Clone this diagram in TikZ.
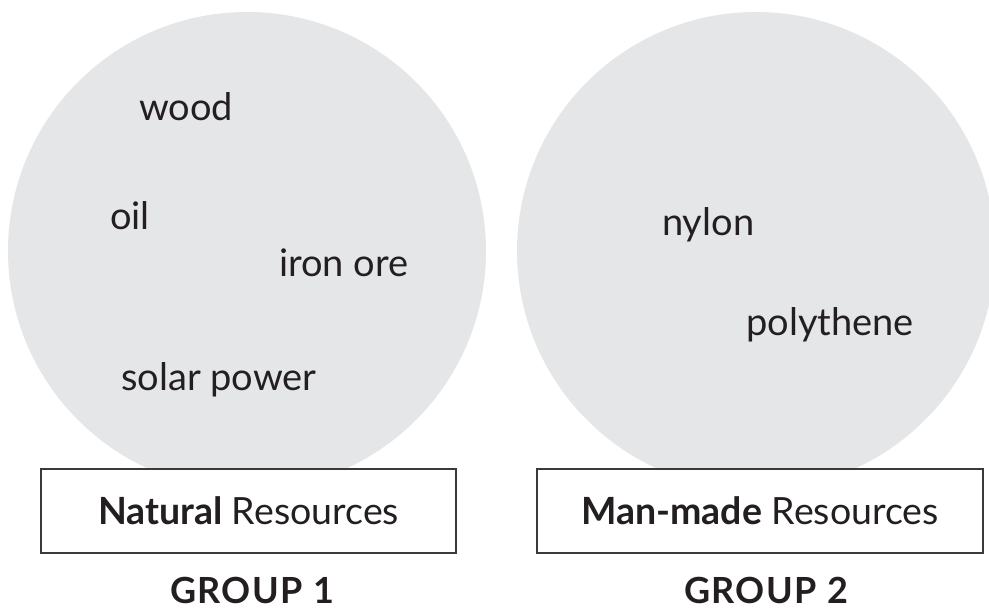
\documentclass[tikz,border=0pt]{standalone}
\usepackage{fontspec}
\setmainfont{Lato}
\definecolor{circgray}{HTML}{E5E6E8}
\definecolor{ink}{HTML}{231F20}
\definecolor{boxline}{HTML}{3A3A3A}
\tikzset{
  bigcircle/.style={circle, fill=circgray, inner sep=0pt, minimum size=478pt},
  labelbox/.style={rectangle, draw=boxline, line width=1.2pt, fill=white, minimum height=84pt, inner sep=0pt, text=ink, font=\fontsize{37.5}{40}\selectfont},
  word/.style={anchor=base west, inner sep=0pt, text=ink, font=\fontsize{38}{42}\selectfont},
  grouplabel/.style={anchor=base, inner sep=0pt, text=ink, font=\bfseries\fontsize{36}{40}\selectfont\addfontfeatures{LetterSpace=4}}
}
\begin{document}
\begin{tikzpicture}[x=1pt, y=-1pt]
\useasboundingbox (0,0) rectangle (989,610);
\node[bigcircle] (c1) at (247,251) {};
\node[bigcircle] (c2) at (756,251) {};
\node[word] (wood) at (139,121) {wood};
\node[word] (oil) at (110,229) {oil};
\node[word] (iron) at (279,276) {iron ore};
\node[word] (solar) at (121,390) {solar power};
\node[word] (nylon) at (662,235) {nylon};
\node[word] (poly) at (746,335) {polythene};
\node[labelbox, minimum width=415pt] (b1) at (248.5,511) {\textbf{Natural} Resources};
\node[labelbox, minimum width=446pt] (b2) at (760,511) {\textbf{Man-made} Resources};
\node[grouplabel] (g1) at (252,603) {GROUP 1};
\node[grouplabel] (g2) at (766,603) {GROUP 2};
\end{tikzpicture}
\end{document}
